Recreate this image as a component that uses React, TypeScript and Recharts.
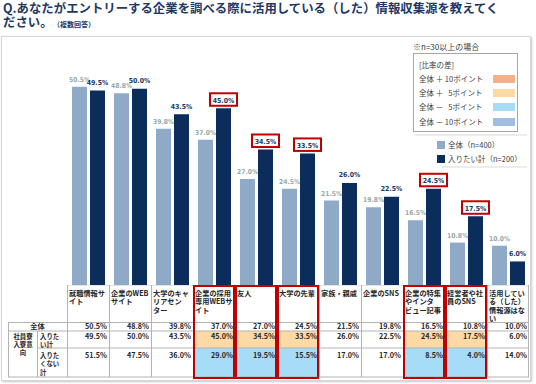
import React from 'react';
import { BarChart, Bar, XAxis, YAxis, LabelList } from 'recharts';

const categories = [
  '就職情報サイト',
  '企業のWEBサイト',
  '大学のキャリアセンター',
  '企業の採用専用WEBサイト',
  '友人',
  '大学の先輩',
  '家族・親戚',
  '企業のSNS',
  '企業の特集やインタビュー記事',
  '経営者や社員のSNS',
  '活用している（した）情報源はない',
];
const headerLines = [
  ['就職情報サ', 'イト'],
  ['企業のWEB', 'サイト'],
  ['大学のキャ', 'リアセン', 'ター'],
  ['企業の採用', '専用WEBサ', 'イト'],
  ['友人'],
  ['大学の先輩'],
  ['家族・親戚'],
  ['企業のSNS'],
  ['企業の特集', 'やインタ', 'ビュー記事'],
  ['経営者や社', '員のSNS'],
  ['活用してい', 'る（した）', '情報源はな', 'い'],
];
const allValues = [50.5, 48.8, 39.8, 37.0, 27.0, 24.5, 21.5, 19.8, 16.5, 10.8, 10.0];
const wantValues = [49.5, 50.0, 43.5, 45.0, 34.5, 33.5, 26.0, 22.5, 24.5, 17.5, 6.0];
const notWantValues = [51.5, 47.5, 36.0, 29.0, 19.5, 15.5, 17.0, 17.0, 8.5, 4.0, 14.0];

const seriesNames = ['全体（n=400）', '入りたい計（n=200）'];
const diffLegend = [
  { label: '全体 ＋ 10ポイント', color: '#f5b08a' },
  { label: '全体 ＋ \u00a0\u00a05ポイント', color: '#fdd9a6' },
  { label: '全体 － \u00a0\u00a05ポイント', color: '#a6dcf6' },
  { label: '全体 － 10ポイント', color: '#a3bce2' },
];

const data = categories.map((c, i) => ({ cat: c, all: allValues[i], want: wantValues[i] }));

const W = 536;
const H = 384;
const MARGIN = { top: 69, right: 7, left: 67, bottom: 0 };
const BAND = (W - MARGIN.left - MARGIN.right) / categories.length;

const LIGHT = '#8faac7';
const DARK = '#0a2d5c';
const RED = '#c00000';
const GRID = '#b3b3b3';
const JP = "'Noto Sans CJK JP', 'Noto Sans', sans-serif";
const NARROW = "'Liberation Sans Narrow', 'DejaVu Sans Condensed', sans-serif";

function diffColor(v: number, base: number): string | null {
  const d = v - base;
  if (d >= 10) return diffLegend[0].color;
  if (d >= 5) return diffLegend[1].color;
  if (d <= -10) return diffLegend[3].color;
  if (d <= -5) return diffLegend[2].color;
  return null;
}
function isHighlighted(i: number) {
  return Math.abs(wantValues[i] - allValues[i]) >= 5 || Math.abs(notWantValues[i] - allValues[i]) >= 5;
}
const fmt = (v: number) => v.toFixed(1) + '%';

function LightLabel(p: any) {
  const { x, y, width, value } = p;
  return (
    <text x={x + width / 2} y={y - 5} textAnchor="middle" fontSize={6.7} fontWeight={700} fontFamily={NARROW} fill="#93aaa6">
      {fmt(Number(value))}
    </text>
  );
}
function DarkLabel(p: any) {
  const { x, y, width, value, index } = p;
  const cx = x + width / 2;
  const boxed = Math.abs(wantValues[index] - allValues[index]) >= 5;
  return (
    <g>
      {boxed && <rect x={cx - 13.5} y={y - 15} width={27} height={12.5} fill="#fff" stroke={RED} strokeWidth={2} />}
      <text x={cx} y={y - 5.5} textAnchor="middle" fontSize={6.9} fontWeight={700} fontFamily={NARROW} fill="#203864">
        {fmt(Number(value))}
      </text>
    </g>
  );
}

function ColumnTick(props: any) {
  const { x, y, payload } = props;
  const i = categories.indexOf(payload.value);
  if (i < 0) return null;
  const left = x - BAND / 2;
  const right = left + BAND;
  const top = y;
  const hdrB = top + 37.5;
  const r1B = top + 46;
  const r2B = top + 63;
  const r3B = top + 92;
  const c2 = diffColor(wantValues[i], allValues[i]);
  const c3 = diffColor(notWantValues[i], allValues[i]);
  const tx = right - 2;
  const txtProps = { fontSize: 7.2, fontWeight: 700, fontFamily: JP, fill: '#262626' };
  const smallProps = { ...txtProps, fontSize: 6.4 };
  return (
    <g>
      {c2 && <rect x={left} y={r1B} width={BAND} height={r2B - r1B} fill={c2} />}
      {c3 && <rect x={left} y={r2B} width={BAND} height={r3B - r2B} fill={c3} />}
      <line x1={left} x2={right} y1={top + 0.5} y2={top + 0.5} stroke="#e3e3e3" />
      <line x1={left} x2={right} y1={hdrB} y2={hdrB} stroke={GRID} />
      <line x1={left} x2={right} y1={r1B} y2={r1B} stroke={GRID} />
      <line x1={left} x2={right} y1={r2B} y2={r2B} stroke={GRID} />
      <line x1={left} x2={right} y1={r3B} y2={r3B} stroke={GRID} />
      <line x1={left + 0.5} x2={left + 0.5} y1={top} y2={r3B} stroke={GRID} />
      {i === categories.length - 1 && <line x1={right - 0.5} x2={right - 0.5} y1={top} y2={r3B} stroke={GRID} />}
      {headerLines[i].map((ln, k) => (
        <text key={k} x={left + 2} y={top + 10.5 + k * 8.6} {...txtProps}>
          {ln}
        </text>
      ))}
      <text x={tx} y={top + 44.3} textAnchor="end" {...txtProps}>{fmt(allValues[i])}</text>
      <text x={tx} y={top + 54} textAnchor="end" {...txtProps}>{fmt(wantValues[i])}</text>
      <text x={tx} y={top + 72.5} textAnchor="end" {...txtProps}>{fmt(notWantValues[i])}</text>
      {isHighlighted(i) && (
        <rect x={left + 1} y={top + 1} width={BAND - 2} height={r3B - top} fill="none" stroke={RED} strokeWidth={2} />
      )}
      {i === 0 && (
        <g>
          <line x1={8} x2={left} y1={hdrB} y2={hdrB} stroke={GRID} />
          <line x1={8} x2={left} y1={r1B} y2={r1B} stroke={GRID} />
          <line x1={37} x2={left} y1={r2B} y2={r2B} stroke={GRID} />
          <line x1={8} x2={left} y1={r3B} y2={r3B} stroke={GRID} />
          <line x1={8.5} x2={8.5} y1={hdrB} y2={r3B} stroke={GRID} />
          <line x1={37.5} x2={37.5} y1={r1B} y2={r3B} stroke={GRID} />
          <text x={(8 + left) / 2} y={top + 44.3} textAnchor="middle" {...txtProps}>全体</text>
          {['社員寮', '入寮意', '向'].map((t, k) => (
            <text key={k} x={23} y={top + 53.5 + k * 8.4} textAnchor="middle" {...smallProps}>{t}</text>
          ))}
          {['入りた', 'い計'].map((t, k) => (
            <text key={k} x={40} y={top + 53.5 + k * 8.1} {...smallProps}>{t}</text>
          ))}
          {['入りた', 'くない', '計'].map((t, k) => (
            <text key={k} x={40} y={top + 73 + k * 8.4} {...smallProps}>{t}</text>
          ))}
        </g>
      )}
    </g>
  );
}

export default function App() {
  return (
    <div style={{ position: 'absolute', left: 0, top: 0, width: W, height: H, background: '#fff', overflow: 'hidden', fontFamily: JP }}>
      <div style={{ position: 'absolute', left: 3, top: 1, color: '#1f3864', fontWeight: 700, fontSize: 12.4, lineHeight: '14px', whiteSpace: 'nowrap' }}>
        <div>Q.あなたがエントリーする企業を調べる際に活用している（した）情報収集源を教えてく</div>
        <div>
          ださい。<span style={{ fontSize: 7, marginLeft: 4 }}>（複数回答）</span>
        </div>
      </div>
      <div style={{ position: 'absolute', left: 1, top: 36, width: 528, height: 343, border: '1px solid #d6d6d6', boxShadow: '1px 1px 2px #c8c8c8' }} />
      <div style={{ position: 'absolute', left: 413, top: 41, fontSize: 8, color: '#404040', whiteSpace: 'nowrap', lineHeight: '11px' }}>※n=30以上の場合</div>
      <div style={{ position: 'absolute', left: 413, top: 53, width: 103, height: 77, border: '1px solid #a6a6a6', background: '#fff' }}>
        <div style={{ position: 'absolute', left: 5, top: 6, fontSize: 7.5, color: '#404040', whiteSpace: 'nowrap', lineHeight: '10px' }}>[比率の差]</div>
        {diffLegend.map((d, k) => (
          <div key={k} style={{ position: 'absolute', left: 5, top: 20 + k * 14.2, width: 96, height: 10 }}>
            <span style={{ position: 'absolute', left: 0, top: 0, fontSize: 7.5, color: '#404040', whiteSpace: 'pre', lineHeight: '10px' }}>{d.label}</span>
            <span style={{ position: 'absolute', left: 74, top: 1, width: 22, height: 8, background: d.color }} />
          </div>
        ))}
      </div>
      <div style={{ position: 'absolute', left: 415, top: 134, width: 112, height: 2, background: '#ececec' }} />
      {seriesNames.map((s, k) => (
        <div key={k} style={{ position: 'absolute', left: 437, top: 141 + k * 14, height: 9, whiteSpace: 'nowrap' }}>
          <span style={{ position: 'absolute', left: 0, top: 0, width: 8, height: 8, background: k === 0 ? LIGHT : DARK }} />
          <span style={{ position: 'absolute', left: 11, top: -1, fontSize: 7.5, color: '#404040', lineHeight: '10px' }}>{s}</span>
        </div>
      ))}
      <div style={{ position: 'absolute', left: 442, top: 166, width: 85, height: 2, background: '#ececec' }} />
      <div style={{ position: 'absolute', left: 0, top: 0 }}>
        <BarChart width={W} height={H} data={data} margin={MARGIN} barSize={15} barGap={3}>
          <YAxis hide domain={[0, 55]} />
          <XAxis
            dataKey="cat"
            height={H - 285}
            interval={0}
            tickLine={false}
            axisLine={false}
            tickSize={0}
            tickMargin={0}
            tick={(p: any) => <ColumnTick {...p} />}
          />
          <Bar dataKey="all" fill={LIGHT} isAnimationActive={false}>
            <LabelList dataKey="all" content={(p: any) => <LightLabel {...p} />} />
          </Bar>
          <Bar dataKey="want" fill={DARK} isAnimationActive={false}>
            <LabelList dataKey="want" content={(p: any) => <DarkLabel {...p} />} />
          </Bar>
        </BarChart>
      </div>
    </div>
  );
}
